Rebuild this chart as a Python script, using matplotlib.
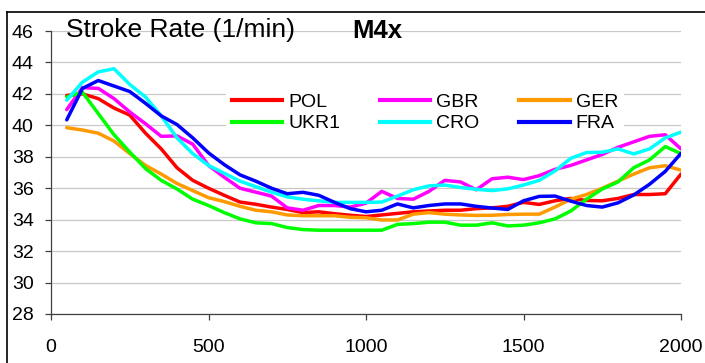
import numpy as np
import matplotlib
matplotlib.use("Agg")
import matplotlib.pyplot as plt
from matplotlib.lines import Line2D

plt.rcParams['font.family'] = ['Liberation Sans', 'DejaVu Sans']

# distance along the race (m), one value every 50 m
distance = list(range(50, 2001, 50))

pol = [41.9, 42.0, 41.7, 41.1, 40.65, 39.5, 38.5, 37.3, 36.5, 36.0,
       35.55, 35.12, 34.98, 34.8, 34.65, 34.45, 34.5, 34.38, 34.28, 34.2,
       34.3, 34.4, 34.5, 34.55, 34.6, 34.6, 34.7, 34.75, 34.85, 35.1,
       34.97, 35.2, 35.35, 35.22, 35.2, 35.35, 35.6, 35.6, 35.65, 36.9]
ukr1 = [41.8, 42.1, 40.75, 39.4, 38.3, 37.25, 36.5, 35.95, 35.3, 34.9,
        34.45, 34.05, 33.8, 33.75, 33.5, 33.37, 33.33, 33.33, 33.33, 33.33,
        33.33, 33.7, 33.75, 33.84, 33.84, 33.65, 33.65, 33.8, 33.6, 33.65,
        33.8, 34.05, 34.55, 35.3, 35.95, 36.4, 37.3, 37.8, 38.65, 38.2]
gbr = [41.0, 42.4, 42.35, 41.7, 40.85, 40.1, 39.3, 39.33, 38.8, 37.45,
       36.7, 36.0, 35.75, 35.5, 34.75, 34.6, 34.9, 34.9, 34.8, 35.05,
       35.8, 35.35, 35.3, 35.8, 36.5, 36.4, 35.9, 36.6, 36.7, 36.55,
       36.8, 37.2, 37.45, 37.8, 38.15, 38.6, 38.95, 39.3, 39.4, 38.5]
cro = [41.6, 42.75, 43.4, 43.6, 42.6, 41.8, 40.6, 39.2, 38.2, 37.45,
       36.95, 36.45, 36.1, 35.75, 35.45, 35.3, 35.2, 35.1, 35.1, 35.1,
       35.12, 35.5, 35.9, 36.15, 36.2, 36.05, 35.93, 35.85, 35.96, 36.2,
       36.5, 37.1, 37.9, 38.27, 38.29, 38.5, 38.18, 38.5, 39.2, 39.57]
ger = [39.85, 39.7, 39.5, 39.0, 38.2, 37.45, 36.9, 36.3, 35.85, 35.4,
       35.15, 34.85, 34.6, 34.5, 34.3, 34.25, 34.25, 34.25, 34.15, 34.12,
       33.98, 33.98, 34.35, 34.45, 34.35, 34.3, 34.27, 34.28, 34.33, 34.35,
       34.35, 34.8, 35.3, 35.6, 36.0, 36.45, 36.9, 37.3, 37.43, 37.15]
fra = [40.35, 42.35, 42.85, 42.5, 42.15, 41.4, 40.6, 40.05, 39.2, 38.25,
       37.5, 36.85, 36.45, 36.0, 35.65, 35.74, 35.55, 35.1, 34.7, 34.5,
       34.6, 35.0, 34.75, 34.9, 35.0, 35.0, 34.85, 34.74, 34.65, 35.2,
       35.48, 35.5, 35.18, 34.9, 34.8, 35.07, 35.57, 36.25, 37.07, 38.22]

# legend order fills column by column: POL/UKR1, GBR/CRO, GER/FRA
series = [("POL", pol, "#FF0000"), ("UKR1", ukr1, "#00FF00"),
          ("GBR", gbr, "#FF00FF"), ("CRO", cro, "#00FFFF"),
          ("GER", ger, "#FF9900"), ("FRA", fra, "#0000FF")]

y_ticks = list(range(28, 47, 2))
x_ticks = [0, 500, 1000, 1500, 2000]

W, H = 705, 363
fig = plt.figure(figsize=(W / 100, H / 100), dpi=100)
ax = fig.add_axes([51 / W, 49 / H, 630 / W, 283 / H])

for name, vals, col in [series[i] for i in (0, 2, 4, 1, 3, 5)]:
    ax.plot(distance, vals, color=col, lw=2.5, label=name,
            solid_joinstyle='round', solid_capstyle='round', zorder=3)

ax.set_xlim(0, 2000)
ax.set_ylim(28, 46)
ax.set_xticks(x_ticks)
ax.set_yticks(y_ticks)
ax.yaxis.grid(True, color="#c8c8c8", lw=0.9)
ax.set_axisbelow(True)
for s in ("top", "right"):
    ax.spines[s].set_visible(False)
for s in ("left", "bottom"):
    ax.spines[s].set_color("#404040")
    ax.spines[s].set_linewidth(0.9)
ax.tick_params(axis="y", direction="out", length=4.5, width=0.9,
               color="#404040", labelsize=14, pad=8)
ax.tick_params(axis="x", direction="out", length=4, width=0.9,
               color="#404040", labelsize=14, pad=14)

handles = [Line2D([], [], color=c, lw=3) for _, _, c in series]
labels = [n for n, _, _ in series]
leg = ax.legend(handles, labels, ncol=3, loc="upper left",
                bbox_to_anchor=(0.262, 0.835), fontsize=14, frameon=True,
                facecolor="white", edgecolor="none", framealpha=1,
                handlelength=2.6, handletextpad=0.3, columnspacing=2.05,
                labelspacing=0.2, borderpad=0.3, fancybox=False)
leg.set_zorder(2)

fig.text(66 / W, 1 - 30 / H, "Stroke Rate (1/min)", fontsize=19,
         va="center", ha="left")
fig.text(352 / W, 1 - 31.5 / H, "M4x", fontsize=18.5, fontweight="bold",
         va="center", ha="left")

# outer chart frame (clipped by the image edge at right and bottom)
fig.add_artist(Line2D([7 / W, 7 / W], [0, 1 - 12 / H], color="black", lw=1.2))
fig.add_artist(Line2D([7 / W, 1], [1 - 12 / H, 1 - 12 / H], color="black", lw=1.2))

fig.savefig("out.png", dpi=100)
